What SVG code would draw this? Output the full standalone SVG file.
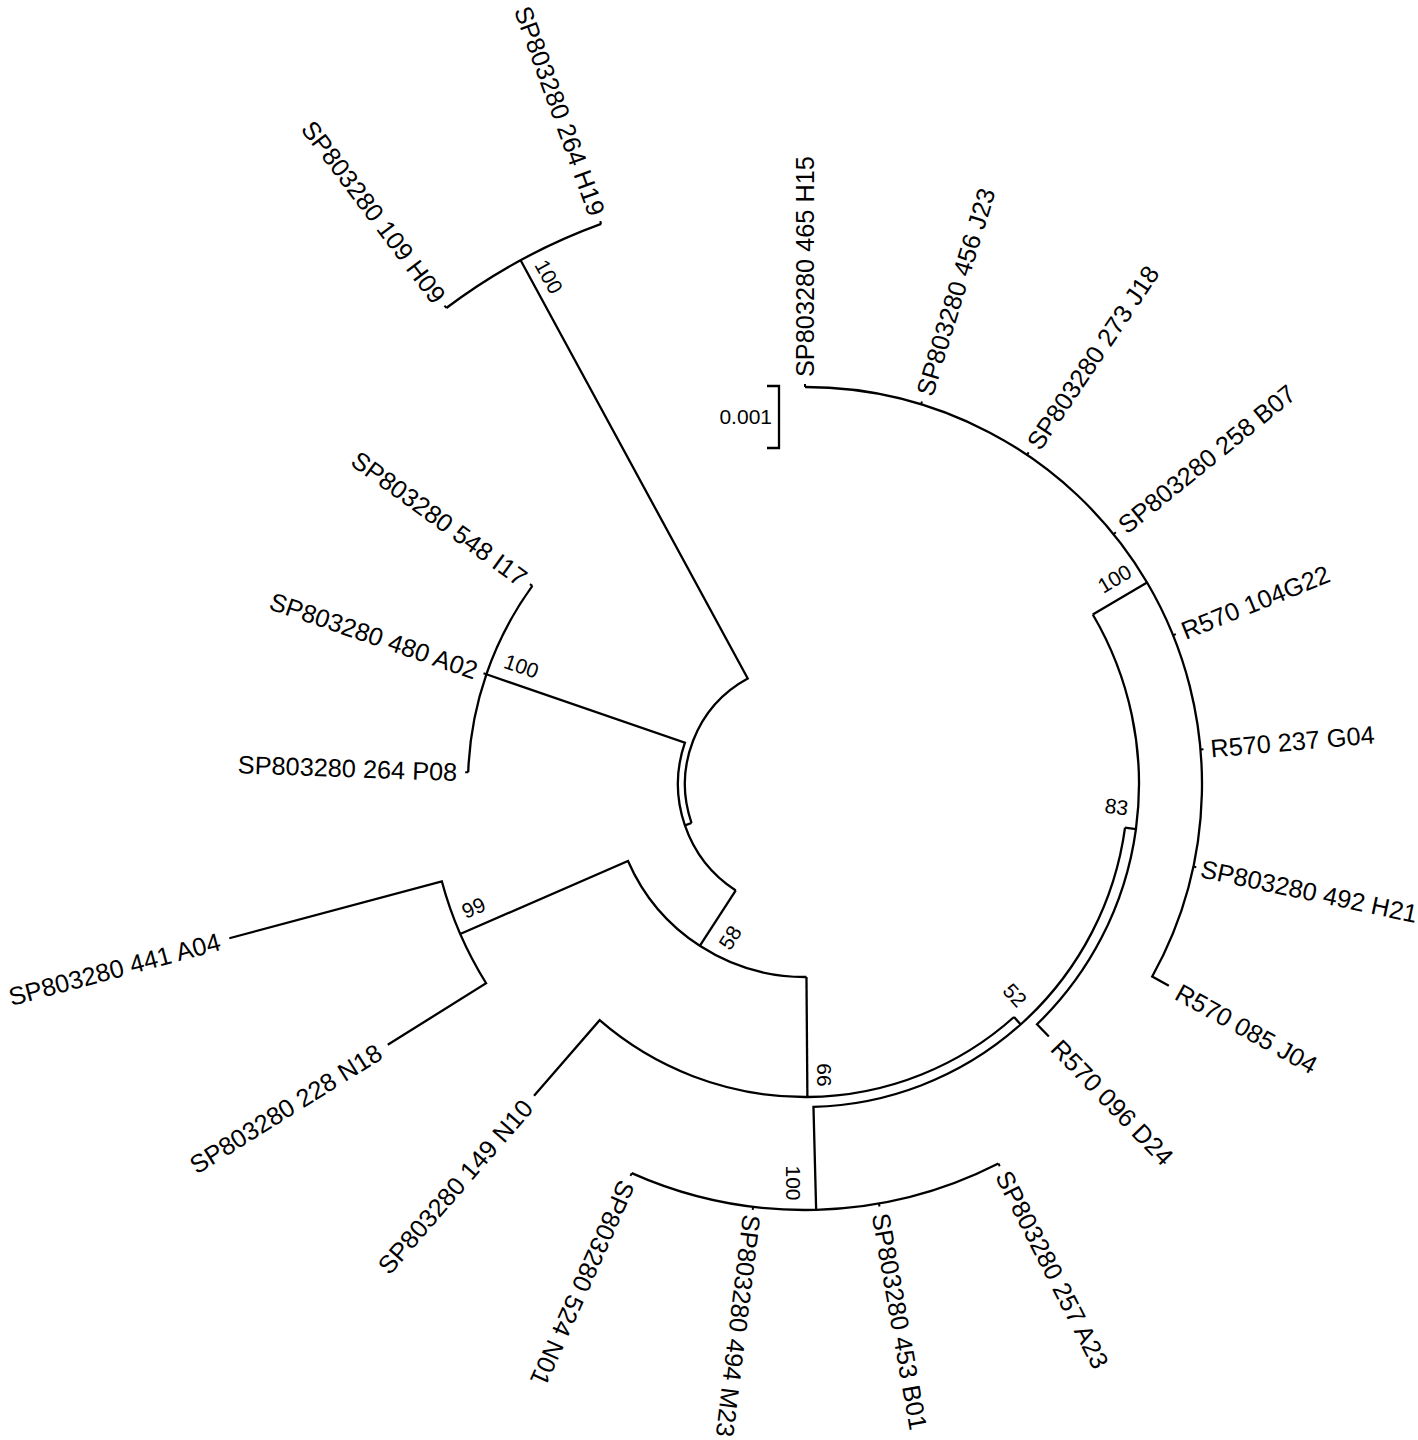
<svg xmlns="http://www.w3.org/2000/svg" width="1418" height="1440" viewBox="0 0 1418 1440">
<style>
.br{fill:none;stroke:#000;stroke-width:2.3;stroke-linecap:butt;stroke-linejoin:miter}
.tk{fill:none;stroke:#000;stroke-width:2}
.lb{font-family:"Liberation Sans",Arial,sans-serif;font-size:25.3px;fill:#000}
.bs{font-family:"Liberation Sans",Arial,sans-serif;font-size:21px;fill:#000;text-anchor:middle}
.s{text-anchor:start}
.e{text-anchor:end}
</style>
<rect width="1418" height="1440" fill="#fff"/>
<g id="connectors">
<path class="br" d="M691.53,823.03 A120,120 0 0 1 747.74,678.54 L520.61,260.22"/>
<path class="br" d="M446.32,308.01 A596,596 0 0 1 601.16,223.94"/>
<path class="br" d="M691.53,823.03 L684.91,825.31"/>
<path class="br" d="M735.77,890.47 A127,127 0 0 1 684.92,742.65 L486.36,674.28"/>
<path class="br" d="M468.21,772.24 A337,337 0 0 1 532.36,585.91"/>
<path class="br" d="M735.77,890.47 L699.80,945.81"/>
<path class="br" d="M806.47,976.99 A193,193 0 0 1 628.0,860.96 L460.19,933.93"/>
<path class="br" d="M387.76,1044.72 L486.13,983.25 A376,376 0 0 1 441.81,881.32 L229.31,938.26"/>
<path class="br" d="M806.47,976.99 L807.39,1096.99"/>
<path class="br" d="M1014.01,1016.99 A313,313 0 0 1 599.65,1020.22 L534.05,1095.70"/>
<path class="br" d="M1014.01,1016.99 L1020.69,1024.43"/>
<path class="br" d="M1125.05,827.56 A323,323 0 0 1 813.46,1106.89 L816.15,1209.86"/>
<path class="br" d="M998.40,1163.57 A426,426 0 0 1 631.73,1173.17"/>
<path class="br" d="M1125.05,827.56 L1135.95,829.04"/>
<path class="br" d="M1092.78,614.48 A334,334 0 0 1 1037.02,1024.26 L1048.83,1036.49"/>
<path class="br" d="M1092.78,614.48 L1147.07,582.51"/>
<path class="br" d="M805,387 A397,397 0 0 1 1152.22,976.47 L1168.84,985.68"/>
<path class="br" d="M767,386 H779 V448 H767"/>
<g class="tk">
<path d="M805,387 L805,384"/>
<path d="M921.07,404.35 L921.95,401.48"/>
<path d="M1027.0,454.87 L1028.68,452.38"/>
<path d="M1113.53,534.16 L1115.86,532.27"/>
<path d="M1173.09,635.28 L1175.87,634.16"/>
<path d="M1200.49,749.40 L1203.48,749.14"/>
<path d="M1193.33,866.54 L1196.26,867.16"/>
<path d="M998.40,1163.57 L999.76,1166.24"/>
<path d="M878.97,1203.53 L879.50,1206.48"/>
<path d="M753.08,1206.83 L752.72,1209.80"/>
<path d="M631.73,1173.17 L630.51,1175.91"/>
<path d="M468.21,772.24 L465.21,772.13"/>
<path d="M486.36,674.28 L483.52,673.31"/>
<path d="M532.36,585.91 L529.93,584.15"/>
<path d="M446.32,308.01 L444.51,305.61"/>
<path d="M601.16,223.94 L600.13,221.13"/>
</g>
</g>
<g id="tips">
<g id="H15"><text class="lb s" transform="translate(805,377) rotate(-90)" dy="0.36em">SP803280 465 H15</text></g>
<g id="J23"><text class="lb s" transform="translate(923.99,394.79) rotate(-73)" dy="0.36em">SP803280 456 J23</text></g>
<g id="J18"><text class="lb s" transform="translate(1032.59,446.58) rotate(-56)" dy="0.36em">SP803280 273 J18</text></g>
<g id="B07"><text class="lb s" transform="translate(1121.30,527.87) rotate(-39)" dy="0.36em">SP803280 258 B07</text></g>
<g id="G22"><text class="lb s" transform="translate(1182.36,631.53) rotate(-22)" dy="0.36em">R570 104G22</text></g>
<g id="G04"><text class="lb s" transform="translate(1210.45,748.53) rotate(-5)" dy="0.36em">R570 237 G04</text></g>
<g id="H21"><text class="lb s" transform="translate(1201.15,868.20) rotate(12)" dy="0.36em">SP803280 492 H21</text></g>
<g id="J04"><text class="lb s" transform="translate(1177.59,990.53) rotate(29)" dy="0.36em">R570 085 J04</text></g>
<g id="D24"><text class="lb s" transform="translate(1055.77,1043.68) rotate(46)" dy="0.36em">R570 096 D24</text></g>
<g id="A23"><text class="lb s" transform="translate(1002.94,1172.48) rotate(63)" dy="0.36em">SP803280 257 A23</text></g>
<g id="B01"><text class="lb s" transform="translate(880.71,1213.38) rotate(80)" dy="0.36em">SP803280 453 B01</text></g>
<g id="M23"><text class="lb s" transform="translate(752.11,1214.77) rotate(97)" dy="0.36em">SP803280 494 M23</text></g>
<g id="N01"><text class="lb s" transform="translate(627.66,1182.31) rotate(114)" dy="0.36em">SP803280 524 N01</text></g>
<g id="N10"><text class="lb e" transform="translate(527.49,1103.24) rotate(-49)" dy="0.36em">SP803280 149 N10</text></g>
<g id="N18"><text class="lb e" transform="translate(379.28,1050.02) rotate(-32)" dy="0.36em">SP803280 228 N18</text></g>
<g id="A04"><text class="lb e" transform="translate(219.65,940.84) rotate(-15)" dy="0.36em">SP803280 441 A04</text></g>
<g id="P08"><text class="lb e" transform="translate(457.21,771.85) rotate(2)" dy="0.36em">SP803280 264 P08</text></g>
<g id="A02"><text class="lb e" transform="translate(476.90,671.03) rotate(19)" dy="0.36em">SP803280 480 A02</text></g>
<g id="I17"><text class="lb e" transform="translate(524.27,580.04) rotate(36)" dy="0.36em">SP803280 548 I17</text></g>
<g id="H09"><text class="lb e" transform="translate(440.30,300.02) rotate(53)" dy="0.36em">SP803280 109 H09</text></g>
<g id="H19"><text class="lb e" transform="translate(597.74,214.55) rotate(70)" dy="0.36em">SP803280 264 H19</text></g>
</g>
<g id="support">
<text class="bs" transform="translate(549,276.5) rotate(61.5)" dy="0.36em">100</text>
<text class="bs" transform="translate(521.5,666) rotate(19)" dy="0.36em">100</text>
<text class="bs" transform="translate(473.5,907.5) rotate(-23.5)" dy="0.36em">99</text>
<text class="bs" transform="translate(730,937.5) rotate(-57)" dy="0.36em">58</text>
<text class="bs" transform="translate(825,1075) rotate(90)" dy="0.36em">66</text>
<text class="bs" transform="translate(794,1183) rotate(90)" dy="0.36em">100</text>
<text class="bs" transform="translate(1015,995) rotate(48)" dy="0.36em">52</text>
<text class="bs" transform="translate(1116.5,806.5) rotate(7.75)" dy="0.36em">83</text>
<text class="bs" transform="translate(1114.5,578.5) rotate(-30.5)" dy="0.36em">100</text>
</g>
<g id="scale"><text class="bs" style="text-anchor:end" x="772" y="423.5">0.001</text></g>
</svg>
